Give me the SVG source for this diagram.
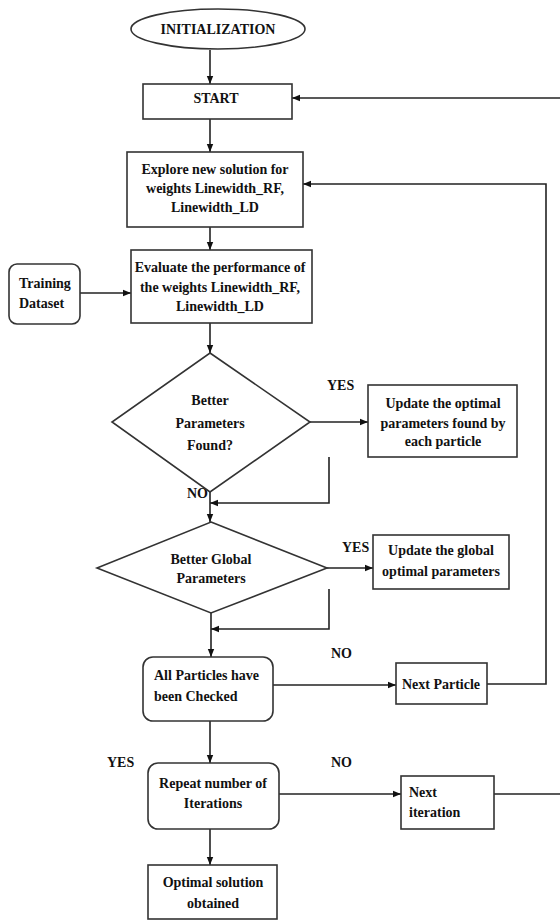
<svg xmlns="http://www.w3.org/2000/svg" width="560" height="922" viewBox="0 0 560 922" font-family="'Liberation Serif', 'Times New Roman', 'DejaVu Serif', serif">
<style>
.n{fill:#fff;stroke:#333;stroke-width:1.6}
.c{fill:none;stroke:#222;stroke-width:1.6}
text{font-family:'Liberation Serif','Times New Roman','DejaVu Serif',serif;font-size:14px;font-weight:bold;fill:#111}
.m{text-anchor:middle}
</style>
<defs>
<marker id="ah" viewBox="0 0 10 10" refX="10" refY="5" markerWidth="8" markerHeight="8" orient="auto" markerUnits="userSpaceOnUse">
<path d="M0,1 L10,5 L0,9 z" fill="#111"/>
</marker>
</defs>
<rect width="560" height="922" fill="#fff"/>
<g id="connectors">
<path class="c" d="M210,50 V84" marker-end="url(#ah)"/>
<path class="c" d="M210,119 V152" marker-end="url(#ah)"/>
<path class="c" d="M210,227 V250" marker-end="url(#ah)"/>
<path class="c" d="M80,293 H131" marker-end="url(#ah)"/>
<path class="c" d="M210,323 V353" marker-end="url(#ah)"/>
<path class="c" d="M310,422 H368" marker-end="url(#ah)"/>
<path class="c" d="M329,457 V503 H210" marker-end="url(#ah)"/>
<path class="c" d="M210,492 V522" marker-end="url(#ah)"/>
<path class="c" d="M327,568 H373" marker-end="url(#ah)"/>
<path class="c" d="M329,589 V629 H211" marker-end="url(#ah)"/>
<path class="c" d="M211,613 V657" marker-end="url(#ah)"/>
<path class="c" d="M273,685 H396" marker-end="url(#ah)"/>
<path class="c" d="M487,684 H546 V184 H303" marker-end="url(#ah)"/>
<path class="c" d="M210,721 V763" marker-end="url(#ah)"/>
<path class="c" d="M279,794 H401" marker-end="url(#ah)"/>
<path class="c" d="M494,794 H564"/>
<path class="c" d="M564,98 H292" marker-end="url(#ah)"/>
<path class="c" d="M210,829 V865" marker-end="url(#ah)"/>
<text x="327" y="390">YES</text>
<text x="187" y="498">NO</text>
<text x="342" y="552">YES</text>
<text x="331" y="658">NO</text>
<text x="107" y="767">YES</text>
<text x="331" y="767">NO</text>
</g>
<g id="init">
<ellipse class="n" cx="218" cy="29" rx="87" ry="20"/>
<text class="m" x="218" y="34">INITIALIZATION</text>
</g>
<g id="start">
<rect class="n" x="143" y="84" width="149" height="35"/>
<text class="m" x="216" y="103">START</text>
</g>
<g id="explore">
<rect class="n" x="127" y="152" width="176" height="75"/>
<text class="m" x="215" y="174">Explore new solution for</text>
<text class="m" x="215" y="193">weights Linewidth_RF,</text>
<text class="m" x="215" y="212">Linewidth_LD</text>
</g>
<g id="training">
<rect class="n" x="9" y="264" width="71" height="60" rx="8"/>
<text x="19" y="288">Training</text>
<text x="19" y="308">Dataset</text>
</g>
<g id="evaluate">
<rect class="n" x="131" y="250" width="181" height="73"/>
<text class="m" x="220" y="272">Evaluate the performance of</text>
<text class="m" x="220" y="292">the weights Linewidth_RF,</text>
<text class="m" x="220" y="311">Linewidth_LD</text>
</g>
<g id="better-params">
<polygon class="n" points="210,353 310,422 210,492 112,422"/>
<text class="m" x="210" y="405">Better</text>
<text class="m" x="210" y="428">Parameters</text>
<text class="m" x="210" y="450">Found?</text>
</g>
<g id="update-particle">
<rect class="n" x="368" y="385" width="149" height="72"/>
<text class="m" x="443" y="408">Update the optimal</text>
<text class="m" x="443" y="428">parameters found by</text>
<text class="m" x="443" y="446">each particle</text>
</g>
<g id="better-global">
<polygon class="n" points="211,522 327,568 211,613 97,568"/>
<text class="m" x="211" y="564">Better Global</text>
<text class="m" x="211" y="583">Parameters</text>
</g>
<g id="update-global">
<rect class="n" x="373" y="535" width="136" height="54"/>
<text class="m" x="441" y="555">Update the global</text>
<text class="m" x="441" y="576">optimal parameters</text>
</g>
<g id="all-checked">
<rect class="n" x="143" y="657" width="130" height="64" rx="10"/>
<text x="154" y="680">All Particles have</text>
<text x="154" y="701">been Checked</text>
</g>
<g id="next-particle">
<rect class="n" x="396" y="663" width="91" height="41"/>
<text class="m" x="441" y="689">Next Particle</text>
</g>
<g id="repeat">
<rect class="n" x="148" y="763" width="131" height="66" rx="10"/>
<text class="m" x="213" y="788">Repeat number of</text>
<text class="m" x="213" y="808">Iterations</text>
</g>
<g id="next-iteration">
<rect class="n" x="401" y="776" width="93" height="53"/>
<text x="409" y="797">Next</text>
<text x="409" y="817">iteration</text>
</g>
<g id="optimal">
<rect class="n" x="148" y="865" width="129" height="54"/>
<text class="m" x="213" y="887">Optimal solution</text>
<text class="m" x="213" y="908">obtained</text>
</g>
</svg>
